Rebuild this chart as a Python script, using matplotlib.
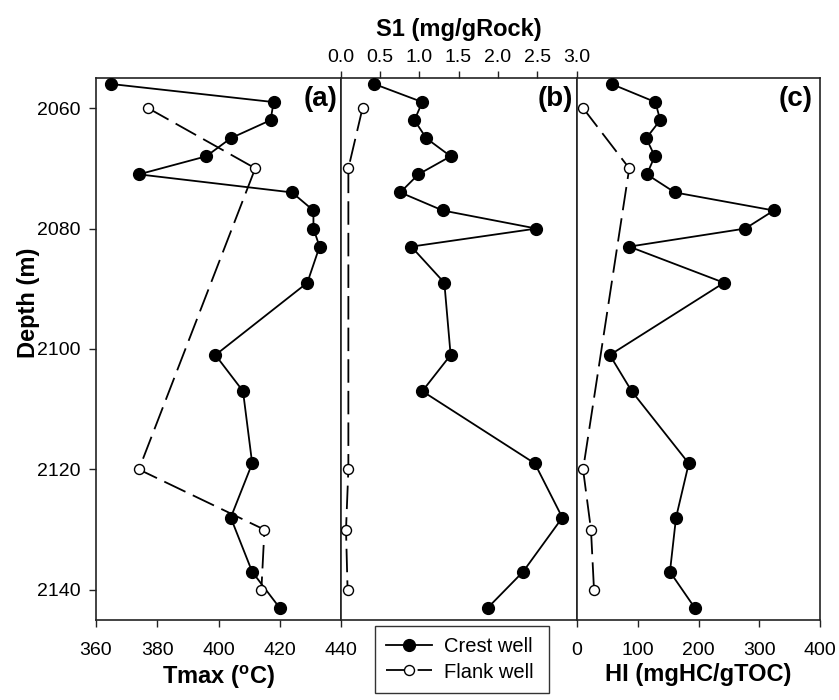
import matplotlib
matplotlib.use("Agg")
import matplotlib.pyplot as plt
from matplotlib.lines import Line2D

plt.rcParams['font.family'] = ['Liberation Sans', 'DejaVu Sans']
plt.rcParams['mathtext.fontset'] = 'custom'
plt.rcParams['mathtext.rm'] = 'Liberation Sans'
plt.rcParams['mathtext.bf'] = 'Liberation Sans:bold'

# ---- data ----
crest_depth = [2056, 2059, 2062, 2065, 2068, 2071, 2074, 2077, 2080, 2083,
               2089, 2101, 2107, 2119, 2128, 2137, 2143]
crest_tmax = [365, 418, 417, 404, 396, 374, 424, 431, 431, 433,
              429, 399, 408, 411, 404, 411, 420]
crest_s1 = [0.43, 1.04, 0.94, 1.09, 1.40, 0.99, 0.76, 1.30, 2.49, 0.90,
            1.32, 1.40, 1.04, 2.47, 2.82, 2.32, 1.87]
crest_hi = [57, 129, 137, 114, 128, 115, 161, 324, 277, 86,
            242, 54, 90, 184, 163, 153, 194]

flank_depth = [2060, 2070, 2120, 2130, 2140]
flank_tmax = [377, 412, 374, 415, 414]
flank_s1 = [0.28, 0.10, 0.10, 0.07, 0.09]
flank_hi = [10, 86, 10, 23, 28]

depth_ticks = [2060, 2080, 2100, 2120, 2140]
tmax_ticks = [360, 380, 400, 420, 440]
s1_ticks = [0.0, 0.5, 1.0, 1.5, 2.0, 2.5, 3.0]
hi_ticks = [0, 100, 200, 300, 400]

W, H = 839, 700
fig = plt.figure(figsize=(W / 100, H / 100), dpi=100)

top_px, bot_px = 78, 620
def ax_at(x0, x1):
    return fig.add_axes([x0 / W, 1 - bot_px / H, (x1 - x0) / W, (bot_px - top_px) / H])

axA = ax_at(96, 341)
axB = ax_at(340.5, 576.5)
axC = ax_at(577, 820)

tick_fs = 14
lab_fs = 17
panel_fs = 20

crest_kw = dict(color='black', lw=1.3, marker='o', ms=8.5, mfc='black', mec='black', zorder=3)
flank_kw = dict(color='black', lw=1.3, ls=(0, (13, 4.5)), marker='o', ms=7.2, mfc='white',
                mec='black', mew=1.0, zorder=4)

for ax in (axA, axB, axC):
    ax.set_ylim(2145, 2055)
    for s in ax.spines.values():
        s.set_linewidth(1.2)
        s.set_color('#222222')
    ax.tick_params(direction='out', length=5, width=1.0, labelsize=tick_fs,
                   color='#222222', pad=6)
    ax.tick_params(axis='x', pad=11)

# (a)
axA.plot(crest_tmax, crest_depth, **crest_kw)
axA.plot(flank_tmax, flank_depth, **flank_kw)
axA.set_xlim(360, 440)
axA.set_xticks(tmax_ticks)
axA.set_yticks(depth_ticks)
axA.set_xlabel(r'Tmax ($\mathbf{^{o}}$C)', fontsize=lab_fs, fontweight='bold', labelpad=3)
axA.set_ylabel('Depth (m)', fontsize=lab_fs, fontweight='bold')
axA.yaxis.set_label_coords(-0.228, 0.585)
axA.text(0.985, 1 - 8 / 542, '(a)', transform=axA.transAxes, ha='right', va='top',
         fontsize=panel_fs, fontweight='bold')

# (b)
axB.plot(crest_s1, crest_depth, **crest_kw)
axB.plot(flank_s1, flank_depth, **flank_kw)
axB.set_xlim(0, 3.0)
axB.set_xticks(s1_ticks)
axB.set_xticklabels([f'{v:.1f}' for v in s1_ticks])
axB.xaxis.set_ticks_position('top')
axB.xaxis.set_label_position('top')
axB.tick_params(axis='x', pad=4)
axB.set_xlabel('S1 (mg/gRock)', fontsize=lab_fs, fontweight='bold', labelpad=9)
axB.set_yticks([])
axB.text(0.985, 1 - 8 / 542, '(b)', transform=axB.transAxes, ha='right', va='top',
         fontsize=panel_fs, fontweight='bold')

# (c)
axC.plot(crest_hi, crest_depth, **crest_kw)
axC.plot(flank_hi, flank_depth, **flank_kw)
axC.set_xlim(0, 400)
axC.set_xticks(hi_ticks)
axC.set_yticks([])
axC.set_xlabel('HI (mgHC/gTOC)', fontsize=lab_fs, fontweight='bold', labelpad=3)
axC.text(0.97, 1 - 8 / 542, '(c)', transform=axC.transAxes, ha='right', va='top',
         fontsize=panel_fs, fontweight='bold')

handles = [Line2D([], [], **{k: v for k, v in crest_kw.items() if k != 'zorder'}),
           Line2D([], [], **{k: v for k, v in flank_kw.items() if k != 'zorder'})]
leg = fig.legend(handles, ['Crest well', 'Flank well'], loc='center',
                 bbox_to_anchor=(375 / W, 1 - 697 / H, 174 / W, 75 / H), mode='expand',
                 fontsize=14.5, frameon=True, fancybox=False, handlelength=2.3,
                 borderpad=0.55, labelspacing=0.3, handletextpad=0.6, borderaxespad=0)
leg.get_frame().set_edgecolor('black')
leg.get_frame().set_linewidth(1.0)

fig.savefig('out.png', dpi=100)
